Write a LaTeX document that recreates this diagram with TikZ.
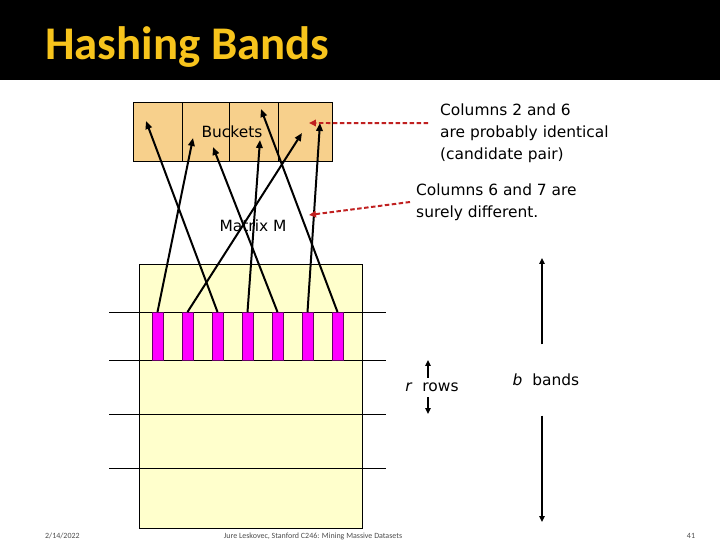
\documentclass[tikz,border=0pt]{standalone}
\usepackage{fontspec}
\setmainfont{DejaVu Sans}
\newfontfamily\titlefont{Carlito}
\usepackage{tikz}
\usetikzlibrary{arrows.meta, positioning}
\definecolor{titleyellow}{RGB}{247,196,28}
\definecolor{bucketfill}{RGB}{247,208,140}
\definecolor{matfill}{RGB}{255,255,204}
\definecolor{notered}{RGB}{192,32,32}
\definecolor{colmag}{RGB}{255,0,255}

\begin{document}
\begin{tikzpicture}[
  x=1bp, y=-1bp,
  node distance = 19bp,
  txt/.style    = {font=\fontsize{15.5}{22}\selectfont, inner sep=0pt},
  bucket/.style = {draw, fill=bucketfill, minimum height=59bp, inner sep=0pt, outer sep=0pt},
  col/.style    = {draw=black!60!colmag, fill=colmag, minimum width=11bp,
                   minimum height=48bp, inner sep=0pt, outer sep=0pt},
  hash/.style   = {-{Triangle[length=8pt,width=6.5pt]}, line width=2pt},
  note/.style   = {-{Triangle[length=7pt,width=6.5pt]}, notered, line width=2pt,
                   dash pattern=on 4.5pt off 2.5pt},
  dim/.style    = {-{Triangle[length=6pt,width=5.5pt]}, line width=1.8pt},
  foot/.style   = {font=\titlefont\fontsize{8}{9}\selectfont, text=black!70, inner sep=0pt}
]
  \useasboundingbox (0,0) rectangle (720,540);

  \fill (0,0) rectangle (720,80);
  \node[anchor=base west, inner sep=0pt, text=titleyellow,
        font=\titlefont\bfseries\fontsize{47}{56}\selectfont] (title) at (45,60) {Hashing Bands};

  \node[bucket, minimum width=49bp, anchor=north west] (b1) at (133,102) {};
  \node[bucket, minimum width=47bp, right=0pt of b1] (b2) {};
  \node[bucket, minimum width=49bp, right=0pt of b2] (b3) {};
  \node[bucket, minimum width=54bp, right=0pt of b3] (b4) {};
  \node[txt] (bktlabel) at (232,132) {Buckets};

  \node[txt] (matlabel) at (253,226) {Matrix M};
  \node[draw, fill=matfill, minimum width=223bp, minimum height=264bp,
        anchor=north west, outer sep=0pt] (mat) at (139,264) {};

  \draw[line width=0.8pt] (109,312) -- (386,312);
  \draw[line width=0.8pt] (109,360) -- (386,360);
  \draw[line width=0.8pt] (109,414) -- (386,414);
  \draw[line width=0.8pt] (109,468) -- (386,468);

  \node[col] (c1) at (157.5,336) {};
  \node[col, right=of c1] (c2) {};
  \node[col, right=of c2] (c3) {};
  \node[col, right=of c3] (c4) {};
  \node[col, right=of c4] (c5) {};
  \node[col, right=of c5] (c6) {};
  \node[col, right=of c6] (c7) {};

  \coordinate (h1) at (193,138);
  \coordinate (h2) at (302,133);
  \coordinate (h3) at (146,121);
  \coordinate (h4) at (260,140);
  \coordinate (h5) at (213,147);
  \coordinate (h6) at (320,123);
  \coordinate (h7) at (261,109);

  \draw[hash] (c1.north) -- (h1);
  \draw[hash] (c2.north) -- (h2);
  \draw[hash] (c3.north) -- (h3);
  \draw[hash] (c4.north) -- (h4);
  \draw[hash] (c5.north) -- (h5);
  \draw[hash] (c6.north) -- (h6);
  \draw[hash] (c7.north) -- (h7);

  \node[txt, anchor=west, align=left] (note1) at (440,133)
       {Columns 2 and 6\\are probably identical\\(candidate pair)};
  \node[txt, anchor=west, align=left] (note2) at (416,202)
       {Columns 6 and 7 are\\surely different.};
  \coordinate (p1) at (309,123);
  \coordinate (p2) at (309,215);
  \draw[note] ([shift={(-12pt,10pt)}]note1.west) -- (p1);
  \draw[note] ([xshift=-6pt]note2.west) -- (p2);

  \node[txt, minimum height=19bp] (rows) at (432,387.5) {\textit{r}~~rows};
  \coordinate (rtop) at (428,360);
  \coordinate (rbot) at (428,414);
  \draw[dim] (rows.north -| rtop) -- (rtop);
  \draw[dim] (rows.south -| rbot) -- (rbot);

  \node[txt, minimum height=71bp] (bands) at (546,380) {\textit{b}~~bands};
  \coordinate (btop) at (542,258);
  \coordinate (bbot) at (542,522);
  \draw[dim] (bands.north -| btop) -- (btop);
  \draw[dim] (bands.south -| bbot) -- (bbot);

  \node[foot, anchor=base west] (date) at (45,538) {2/14/2022};
  \node[foot, anchor=base] (credit) at (313,538) {Jure Leskovec, Stanford C246: Mining Massive Datasets};
  \node[foot, anchor=base] (page) at (691,538) {41};
\end{tikzpicture}
\end{document}
